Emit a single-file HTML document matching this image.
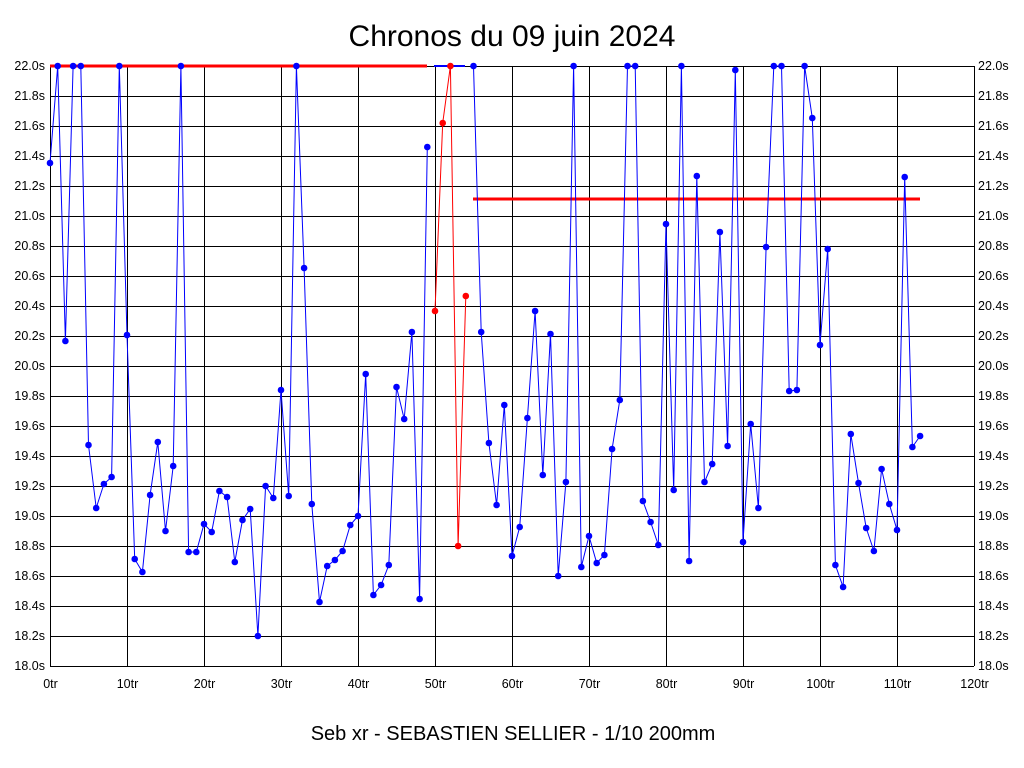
<!DOCTYPE html>
<html><head><meta charset="utf-8"><style>body{margin:0;background:#fff}svg{display:block}</style></head><body>
<svg width="1024" height="768" xmlns="http://www.w3.org/2000/svg" font-family="Liberation Sans, sans-serif">
<rect width="1024" height="768" fill="#fff"/>
<text x="512" y="46" font-size="30" text-anchor="middle">Chronos du 09 juin 2024</text>
<text x="513" y="740" font-size="20" text-anchor="middle">Seb xr - SEBASTIEN SELLIER - 1/10 200mm</text>
<g id="grid" stroke="#000" stroke-width="1"></g>
<g id="lab" font-size="12.5"></g>
<line x1="50" y1="66" x2="427" y2="66" stroke="#f00" stroke-width="3"/>
<line x1="473" y1="199" x2="920" y2="199" stroke="#f00" stroke-width="3"/>
<line x1="434" y1="66" x2="465" y2="66" stroke="#00f" stroke-width="2"/>
<g id="ser"></g>
</svg>
<script>
var ns="http://www.w3.org/2000/svg";
function el(p,t,a,txt){var e=document.createElementNS(ns,t);for(var k in a)e.setAttribute(k,a[k]);if(txt)e.textContent=txt;document.getElementById(p).appendChild(e);return e;}
var L=50,R=974,T=66,B=666;
for(var i=0;i<=20;i++){var y=T+i*30;el('grid','line',{x1:L,y1:y+0.5,x2:R,y2:y+0.5});
var v=(22-i*0.2).toFixed(1)+'s';el('lab','text',{x:45,y:y+4,'text-anchor':'end'},v);el('lab','text',{x:978,y:y+4},v);}
for(var i=0;i<=12;i++){var x=Math.round(L+i*77)+0.5;el('grid','line',{x1:x,y1:T,x2:x,y2:B});el('lab','text',{x:x,y:688,'text-anchor':'middle'},(i*10)+'tr');}
var Y=[163,66,341,66,66,445,508,484,477,66,335,559,572,495,442,531,466,66,552,552,524,532,491,497,562,520,509,636,486,498,390,496,66,268,504,602,566,560,551,525,516,374,595,585,565,387,419,332,599,147,311,123,66,546,296,66,332,443,505,405,556,527,418,311,475,334,576,482,66,567,536,563,555,449,400,66,66,501,522,545,224,490,66,561,176,482,464,232,446,70,542,424,508,247,66,66,391,390,66,118,345,249,565,587,434,483,528,551,469,504,530,177,447,436];
function X(i){return L+i*7.7;}
function poly(a,b,c){var p=[];for(var i=a;i<=b;i++)p.push(X(i).toFixed(1)+','+Y[i]);el('ser','polyline',{points:p.join(' '),fill:'none',stroke:c,'stroke-width':1});for(var i=a;i<=b;i++)el('ser','circle',{cx:X(i),cy:Y[i],r:3.3,fill:c});}
poly(0,49,'#00f');poly(50,54,'#f00');poly(55,113,'#00f');
</script>
</body></html>
